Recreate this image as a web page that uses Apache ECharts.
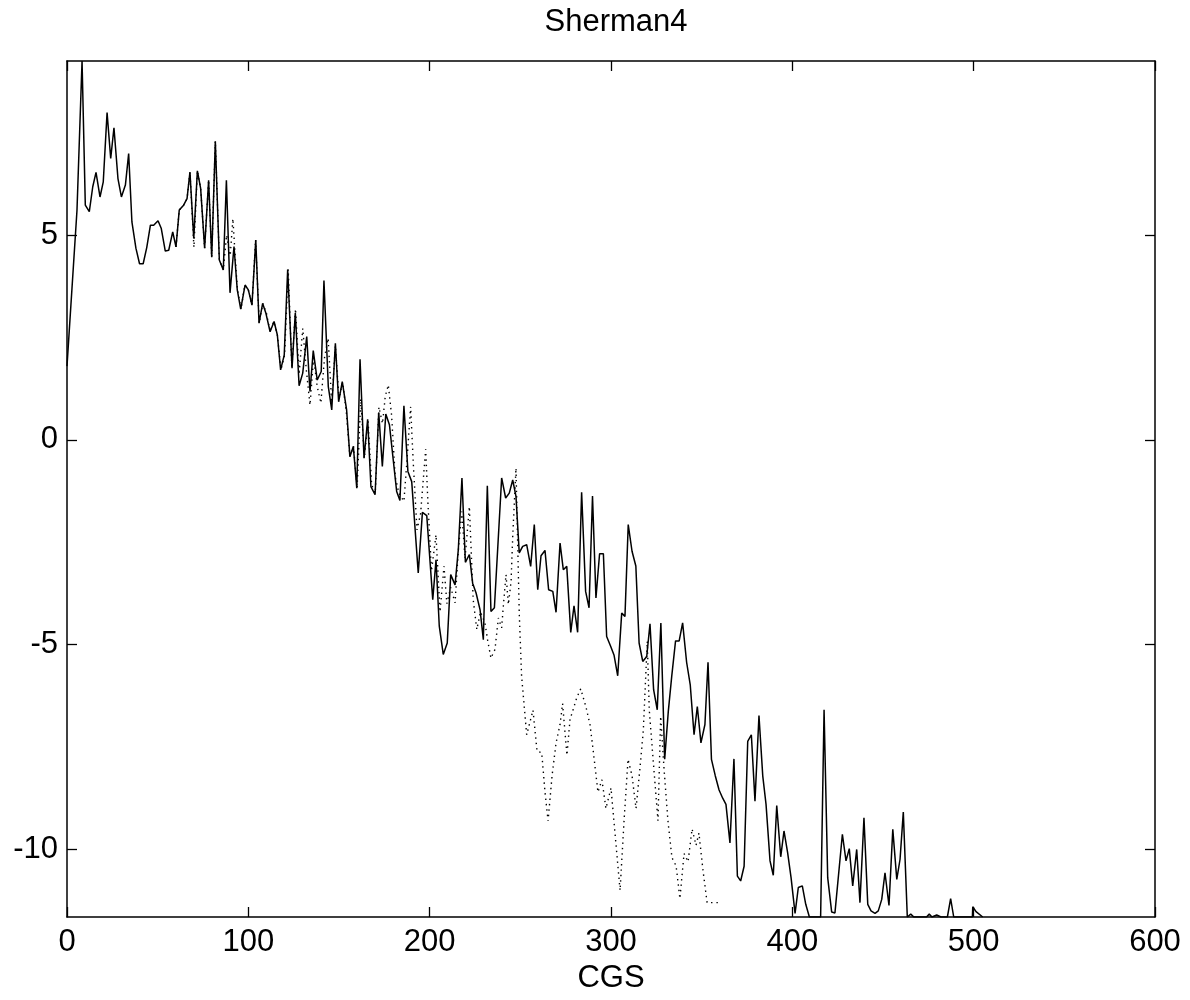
<!DOCTYPE html>
<html>
<head>
<meta charset="utf-8">
<script src="https://cdn.jsdelivr.net/npm/echarts@6/dist/echarts.min.js"></script>
<style>
  html, body { margin: 0; padding: 0; background: #fff; }
  #chart { width: 1190px; height: 1000px; }
</style>
</head>
<body>
<div id="chart"></div>
<script>
// solid curve (iteration, log residual)
const solidX = [0, 5.5, 8.3, 10.1, 12.3, 14.2, 16, 18.2, 20, 22.1, 24.1, 25.9, 28.1, 30, 32.2, 34, 35.8, 38, 40, 42, 44, 46, 47.8, 50.2, 52, 54.2, 56.1, 58.3, 60.1, 61.9, 64.3, 66.2, 67.8, 69.9, 71.9, 73.7, 75.9, 78.1, 79.8, 81.8, 84, 86.2, 87.9, 89.9, 92.1, 93.9, 95.8, 98.2, 100, 102, 104.1, 105.9, 107.9, 109.7, 112, 114.2, 116, 117.8, 119.8, 121.7, 124.1, 125.9, 128, 130, 132.2, 134, 135.8, 138, 140.2, 141.7, 144.1, 146, 148, 149.8, 151.8, 154.2, 156, 157.9, 159.8, 161.6, 163.8, 165.8, 167.6, 169.9, 171.9, 173.9, 175.8, 177.8, 181.8, 183.6, 185.8, 188, 190.1, 193.7, 196, 198.4, 201.7, 203.5, 205.3, 207.5, 209.7, 211.6, 214, 215.8, 217.8, 219.7, 221.9, 223.7, 225.6, 227.8, 229.6, 231.8, 233.8, 235.7, 239.7, 241.9, 243.9, 245.8, 247.6, 249.4, 251.3, 253.5, 255.7, 257.7, 259.6, 261.4, 263.6, 265.6, 267.9, 269.7, 271.9, 273.7, 275.6, 277.8, 279.6, 281.6, 283.8, 286, 287.9, 289.8, 291.7, 293.7, 295.8, 297.6, 299.8, 301.7, 303.7, 305.9, 307.7, 309.5, 311.6, 313.7, 315.5, 317.5, 319.7, 321.5, 323.5, 325.5, 327.5, 329.6, 331.6, 333.5, 335.6, 337.6, 339.5, 341.7, 343.7, 345.8, 347.6, 349.6, 351.8, 353.5, 355.4, 357.5, 359.6, 361.6, 363.4, 365.6, 367.8, 369.7, 371.5, 373.4, 375.4, 377.4, 379.4, 381.6, 383.7, 385.5, 387.7, 389.5, 391.4, 393.6, 395.4, 397.4, 399.3, 401.5, 403.3, 405.5, 407.4, 409.4, 415.6, 417.5, 419.5, 421.7, 423.5, 427.6, 429.6, 431.4, 433.3, 435.5, 437.3, 439.5, 441.6, 443.4, 445.6, 447.4, 449.3, 451.1, 453.3, 455.4, 457.6, 459.4, 461.2, 463.4, 465.3, 467, 474, 475.5, 477, 479.6, 482, 485.5, 487.3, 489, 499.3, 499.5, 501.3, 505];
const solidY = [1.8, 5.6, 9.25, 5.73, 5.57, 6.18, 6.53, 5.93, 6.3, 7.99, 6.87, 7.62, 6.38, 5.93, 6.22, 6.99, 5.32, 4.68, 4.3, 4.3, 4.7, 5.24, 5.24, 5.35, 5.16, 4.61, 4.63, 5.08, 4.71, 5.61, 5.73, 5.89, 6.54, 4.92, 6.57, 6.14, 4.68, 6.34, 4.46, 7.29, 4.39, 4.15, 6.34, 3.59, 4.72, 3.66, 3.19, 3.78, 3.66, 3.29, 4.88, 2.85, 3.33, 3.09, 2.64, 2.89, 2.56, 1.71, 2.07, 4.16, 1.75, 3.1, 1.32, 1.63, 2.52, 1.18, 2.18, 1.46, 1.67, 3.89, 1.3, 0.73, 2.36, 0.93, 1.42, 0.73, -0.41, -0.16, -1.18, 1.97, -0.45, 0.5, -1.14, -1.34, 0.67, -0.65, 0.63, 0.37, -1.26, -1.48, 0.83, -0.77, -1.02, -3.25, -1.77, -1.85, -3.9, -2.93, -4.55, -5.24, -4.96, -3.29, -3.54, -2.68, -0.93, -2.99, -2.8, -3.5, -3.74, -4.15, -4.88, -1.12, -4.19, -4.1, -0.93, -1.42, -1.3, -0.98, -1.38, -2.76, -2.6, -2.56, -3.09, -2.07, -3.66, -2.83, -2.7, -3.66, -3.7, -4.21, -2.52, -3.17, -3.09, -4.7, -4.05, -4.7, -1.28, -3.7, -4.1, -1.37, -3.86, -2.78, -2.78, -4.8, -5.04, -5.26, -5.76, -4.23, -4.31, -2.07, -2.72, -3.08, -4.96, -5.41, -5.29, -4.49, -6.1, -6.59, -4.47, -7.8, -6.63, -5.77, -4.91, -4.91, -4.47, -5.43, -5.98, -7.2, -6.51, -7.4, -6.95, -5.43, -7.8, -8.2, -8.55, -8.75, -8.9, -9.84, -7.79, -10.65, -10.77, -10.41, -7.36, -7.2, -8.82, -6.73, -8.21, -8.9, -10.28, -10.63, -8.93, -10.18, -9.55, -10.08, -10.69, -11.56, -10.93, -10.89, -11.34, -11.65, -11.65, -6.59, -10.69, -11.53, -11.55, -9.63, -10.28, -9.98, -10.89, -10.0, -11.3, -9.23, -11.34, -11.5, -11.56, -11.5, -11.22, -10.57, -11.37, -9.51, -10.73, -10.24, -9.09, -11.65, -11.58, -11.65, -11.65, -11.58, -11.65, -11.6, -11.65, -11.65, -11.2, -11.65, -11.65, -11.4, -11.52, -11.65];

// dotted curve
const dottedX = [60.1, 61.9, 64.3, 66.2, 67.8, 70, 71.9, 73.7, 75.9, 78.1, 79.8, 81.8, 84, 86.2, 88, 90, 91.5, 93, 94, 96, 98, 100, 102, 104, 106, 108, 110, 112, 114, 116, 118, 120, 122, 124, 126, 128, 130, 132, 134, 136, 138, 140, 142, 144, 146, 148, 150, 152, 154, 156, 158, 160, 162, 164, 166, 168, 170, 172, 174, 175.5, 177.2, 179, 181, 183, 185.8, 187.5, 189.5, 191, 193, 195, 197.8, 199, 201, 203.5, 205.7, 207.9, 209.5, 211.6, 214, 215.8, 217.7, 219.5, 221.9, 224, 226, 228, 230.5, 232, 233.8, 236, 237.9, 239.7, 240.6, 242.1, 243.4, 244.9, 245.8, 247.6, 249.4, 250.7, 253.5, 257, 259.2, 261.8, 263.6, 265.3, 267.5, 269.7, 271.9, 273.3, 275.7, 277.4, 281.1, 283.3, 286.2, 288.4, 289.9, 292.8, 295, 297.2, 300, 302.8, 305, 307.2, 309.4, 311.6, 313.8, 316, 317.8, 320, 321.1, 323, 325.9, 327.4, 329.2, 331.4, 333.6, 335.9, 338, 340.3, 342.5, 344.7, 346.9, 348.5, 350.7, 353, 359];
const dottedY = [4.71, 5.61, 5.73, 5.89, 6.54, 4.7, 6.57, 6.14, 4.68, 6.34, 4.46, 7.29, 4.39, 4.15, 5.0, 4.5, 5.4, 4.3, 3.66, 3.19, 3.78, 3.66, 3.29, 4.88, 2.85, 3.33, 3.09, 2.64, 2.89, 2.56, 1.71, 2.07, 4.16, 1.75, 3.2, 1.6, 2.72, 1.7, 0.85, 2.0, 1.3, 0.9, 2.0, 2.48, 0.9, 2.3, 1.0, 1.4, 0.7, -0.4, -0.16, -1.18, 1.0, -0.45, 0.5, -1.1, -1.3, 0.8, 0.4, 1.06, 1.34, 0.6, -0.9, -1.3, -1.5, -0.5, 0.81, -0.6, -2.2, -1.8, -0.23, -1.5, -3.2, -2.32, -4.2, -3.09, -4.0, -3.6, -3.98, -2.7, -1.75, -2.9, -1.63, -3.9, -4.63, -4.2, -4.47, -4.9, -5.33, -5.12, -4.35, -4.59, -4.07, -3.29, -4.02, -3.46, -2.36, -0.69, -4.23, -5.77, -7.2, -6.6, -7.6, -7.64, -8.6, -9.3, -8.2, -7.4, -6.95, -6.44, -7.7, -6.83, -6.3, -6.08, -6.52, -6.95, -7.48, -8.6, -8.3, -9.0, -8.5, -9.9, -11.0, -9.3, -7.8, -8.2, -9.0, -8.0, -7.11, -4.92, -6.59, -7.68, -9.3, -6.75, -8.0, -9.3, -10.2, -10.4, -11.2, -10.1, -10.3, -9.5, -9.9, -9.6, -10.5, -11.3, -11.3];

const xTicks = [0, 100, 200, 300, 400, 500, 600];
const yTicks = [-10, -5, 0, 5];
const yMin = -11.65;
const yMax = 9.25;

const chart = echarts.init(document.getElementById('chart'), null, { renderer: 'canvas' });

const font = '"Liberation Sans", Arial, Helvetica, sans-serif';
const solid = solidX.map((x, i) => [x, solidY[i]]);
const dotted = dottedX.map((x, i) => [x, dottedY[i]]);

const tick = { show: true, inside: true, length: 10, lineStyle: { color: '#000', width: 1.3 } };
const line = { show: true, onZero: false, lineStyle: { color: '#000', width: 1.5 } };

const option = {
  backgroundColor: '#fff',
  animation: false,
  title: {
    text: 'Sherman4',
    left: 611,
    top: 2,
    textAlign: 'center',
    textStyle: { fontFamily: font, fontWeight: 'normal', fontSize: 31, color: '#000' }
  },
  grid: { left: 67, right: 35, top: 61, bottom: 83, containLabel: false },
  xAxis: [
    {
      type: 'value', min: 0, max: 600, interval: 100, position: 'bottom',
      name: 'CGS', nameLocation: 'middle', nameGap: 42,
      nameTextStyle: { fontFamily: font, fontSize: 31, color: '#000' },
      axisLine: line, axisTick: { ...tick, customValues: xTicks },
      axisLabel: { customValues: xTicks, fontFamily: font, fontSize: 31, color: '#000', margin: 10 },
      splitLine: { show: false }
    },
    {
      type: 'value', min: 0, max: 600, interval: 100, position: 'top',
      axisLine: line, axisTick: { ...tick, customValues: xTicks },
      axisLabel: { show: false }, splitLine: { show: false }
    }
  ],
  yAxis: [
    {
      type: 'value', min: yMin, max: yMax, position: 'left',
      axisLine: line, axisTick: { ...tick, customValues: yTicks },
      axisLabel: { customValues: yTicks, fontFamily: font, fontSize: 31, color: '#000', margin: 9 },
      splitLine: { show: false }
    },
    {
      type: 'value', min: yMin, max: yMax, position: 'right',
      axisLine: line, axisTick: { ...tick, customValues: yTicks },
      axisLabel: { show: false }, splitLine: { show: false }
    }
  ],
  series: [
    {
      type: 'line', data: dotted, symbol: 'none', clip: true,
      lineStyle: { color: '#000', width: 1.4, type: [1.4, 4] }
    },
    {
      type: 'line', data: solid, symbol: 'none', clip: true,
      lineStyle: { color: '#000', width: 1.5 }
    }
  ]
};

chart.setOption(option);
window.addEventListener('resize', () => chart.resize());
</script>
</body>
</html>
